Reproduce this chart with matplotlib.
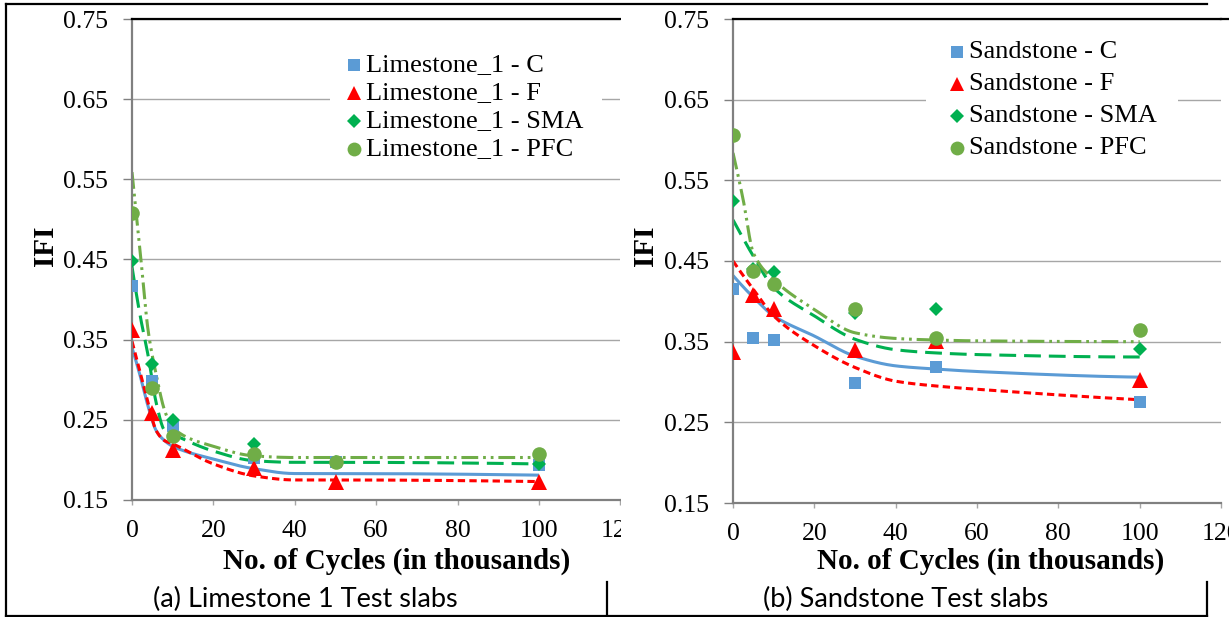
import numpy as np
import matplotlib
matplotlib.use("Agg")
import matplotlib.pyplot as plt
from matplotlib.lines import Line2D
from matplotlib.patches import Rectangle

# ---------------- data ----------------
cycles = [0, 5, 10, 30, 50, 100]

lime_C = [0.417, 0.299, 0.242, 0.203, 0.197, 0.194]
lime_F = [0.362, 0.258, 0.212, 0.190, 0.172, 0.172]
lime_SMA = [0.448, 0.320, 0.250, 0.220, 0.198, 0.195]
lime_PFC = [0.508, 0.290, 0.230, 0.208, 0.197, 0.208]

sand_C = [0.415, 0.354, 0.352, 0.299, 0.319, 0.275]
sand_F = [0.337, 0.408, 0.390, 0.340, 0.351, 0.302]
sand_SMA = [0.524, 0.440, 0.436, 0.386, 0.391, 0.341]
sand_PFC = [0.606, 0.437, 0.422, 0.390, 0.355, 0.364]

# trend lines
lime_trend_x = [0, 2, 4, 6, 8, 10, 20, 30, 40, 50, 100]
lime_trend_C = [0.340, 0.305, 0.266, 0.236, 0.224, 0.217, 0.201, 0.189, 0.183, 0.183, 0.181]
lime_trend_F = [0.348, 0.309, 0.270, 0.236, 0.224, 0.220, 0.195, 0.180, 0.175, 0.175, 0.173]
lime_trend_SMA = [0.441, 0.380, 0.329, 0.270, 0.237, 0.232, 0.211, 0.199, 0.197, 0.197, 0.195]
lime_trend_PFC = [0.559, 0.460, 0.360, 0.305, 0.262, 0.240, 0.217, 0.205, 0.203, 0.203, 0.203]

sand_trend_x = [0, 2.5, 5, 10, 20, 30, 40, 50, 60, 100]
sand_trend_C = [0.432, 0.418, 0.405, 0.382, 0.357, 0.332, 0.320, 0.316, 0.313, 0.306]
sand_trend_F = [0.450, 0.432, 0.415, 0.382, 0.345, 0.318, 0.301, 0.295, 0.291, 0.278]
sand_trend_SMA = [0.501, 0.478, 0.456, 0.417, 0.382, 0.353, 0.340, 0.336, 0.334, 0.331]
sand_trend_PFC = [0.584, 0.526, 0.460, 0.427, 0.390, 0.361, 0.354, 0.352, 0.351, 0.350]

lime_labels = ["Limestone_1 - C", "Limestone_1 - F", "Limestone_1 - SMA", "Limestone_1 - PFC"]
sand_labels = ["Sandstone - C", "Sandstone - F", "Sandstone - SMA", "Sandstone - PFC"]
captions = ["(a) Limestone 1 Test slabs", "(b) Sandstone Test slabs"]
xlabel = "No. of Cycles (in thousands)"
ylabel = "IFI"
yticks = [0.15, 0.25, 0.35, 0.45, 0.55, 0.65, 0.75]
xticks = [0, 20, 40, 60, 80, 100, 120]

# ---------------- style ----------------
W, H = 1229, 617
fig = plt.figure(figsize=(W / 100, H / 100), dpi=100)
SERIF = ["Liberation Serif", "DejaVu Serif"]
plt.rcParams["font.family"] = SERIF

colors = ["#5B9BD5", "#FF0000", "#00B050", "#70AD47"]
markers = ["s", "^", "D", "o"]
msizes = [8.5, 11, 7.2, 10.5]
lw = 2.2
styles = [dict(linestyle="-"),
          dict(dashes=(2.4, 1.4)),
          dict(dashes=(5.5, 2.6)),
          dict(dashes=(5.5, 1.6, 0.9, 1.6, 0.9, 1.6))]


def fx(px):
    return px / W


def fy(py):
    return 1 - py / H


def pchip(x, y, xn):
    x = np.asarray(x, float)
    y = np.asarray(y, float)
    h = np.diff(x)
    d = np.diff(y) / h
    n = len(x)
    m = np.zeros(n)
    for k in range(1, n - 1):
        if d[k - 1] * d[k] > 0:
            w1 = 2 * h[k] + h[k - 1]
            w2 = h[k] + 2 * h[k - 1]
            m[k] = (w1 + w2) / (w1 / d[k - 1] + w2 / d[k])
    def endslope(h0, h1, d0, d1):
        s = ((2 * h0 + h1) * d0 - h0 * d1) / (h0 + h1)
        if np.sign(s) != np.sign(d0):
            s = 0.0
        elif np.sign(d0) != np.sign(d1) and abs(s) > abs(3 * d0):
            s = 3 * d0
        return s
    m[0] = endslope(h[0], h[1], d[0], d[1])
    m[-1] = endslope(h[-1], h[-2], d[-1], d[-2])
    idx = np.clip(np.searchsorted(x, xn) - 1, 0, n - 2)
    t = (xn - x[idx]) / h[idx]
    h00 = 2 * t**3 - 3 * t**2 + 1
    h10 = t**3 - 2 * t**2 + t
    h01 = -2 * t**3 + 3 * t**2
    h11 = t**3 - t**2
    return h00 * y[idx] + h10 * h[idx] * m[idx] + h01 * y[idx + 1] + h11 * h[idx] * m[idx + 1]


def make_axes(left_px, right_px, top_px, bottom_px, z):
    ax = fig.add_axes([fx(left_px), fy(bottom_px), (right_px - left_px) / W,
                       (bottom_px - top_px) / H])
    ax.set_zorder(z)
    ax.patch.set_alpha(0)
    ax.set_xlim(0, 120)
    ax.set_ylim(0.15, 0.75)
    ax.set_xticks(xticks)
    ax.set_yticks(yticks)
    ax.set_yticklabels([f"{v:.2f}" for v in yticks])
    ax.grid(axis="y", color="#A6A6A6", linewidth=1.0)
    ax.set_axisbelow(True)
    for s in ["left", "bottom"]:
        ax.spines[s].set_color("#808080")
        ax.spines[s].set_linewidth(1.6)
    ax.spines["right"].set_visible(False)
    ax.spines["top"].set_color("black")
    ax.spines["top"].set_linewidth(1.6)
    ax.tick_params(axis="y", direction="out", length=6.5, width=1.0, color="#808080",
                   pad=11, labelsize=18.5)
    ax.tick_params(axis="x", direction="out", length=3.6, width=1.0, color="#A6A6A6",
                   pad=11, labelsize=18.5)
    return ax


def draw_panel(ax, series, trend_x, trends):
    xs = np.linspace(0, 100, 600)
    for i in range(4):
        ax.plot(xs, pchip(trend_x, trends[i], xs), color=colors[i], lw=lw,
                solid_capstyle="butt", dash_capstyle="butt", zorder=2, **styles[i])
    for i in range(4):
        ax.plot(cycles, series[i], linestyle="none", marker=markers[i],
                markersize=msizes[i], color=colors[i], markeredgewidth=0, zorder=3)


axL = make_axes(132, 620.4, 19, 500, 0)
axR = make_axes(733, 1221, 19, 503, 1)

draw_panel(axL, [lime_C, lime_F, lime_SMA, lime_PFC], lime_trend_x,
           [lime_trend_C, lime_trend_F, lime_trend_SMA, lime_trend_PFC])
draw_panel(axR, [sand_C, sand_F, sand_SMA, sand_PFC], sand_trend_x,
           [sand_trend_C, sand_trend_F, sand_trend_SMA, sand_trend_PFC])

# white strip hiding the clipped part of the left panel
fig.add_artist(Rectangle((fx(621), fy(560)), (733 - 621) / W, (560 - 10) / H,
                         transform=fig.transFigure, facecolor="white",
                         edgecolor="none", zorder=0.5))
# top line continuation for right panel
fig.add_artist(Line2D([fx(1221), fx(1229)], [fy(19), fy(19)], color="black",
                      lw=1.6, zorder=2))


def legend(labels, box, mx, tx, ys):
    x0, y0, x1, y1 = box
    fig.add_artist(Rectangle((fx(x0), fy(y1)), (x1 - x0) / W, (y1 - y0) / H,
                             transform=fig.transFigure, facecolor="white",
                             edgecolor="none", zorder=5))
    for i, lab in enumerate(labels):
        fig.add_artist(Line2D([fx(mx)], [fy(ys[i])], marker=markers[i],
                              markersize=msizes[i] * 0.95, color=colors[i],
                              markeredgewidth=0, linestyle="none", zorder=6))
        fig.text(fx(tx), fy(ys[i]), lab, ha="left", va="center", fontsize=19,
                 zorder=6)


legend(lime_labels, (330, 40, 602, 165), 354, 366, [65, 93, 121, 149])
legend(sand_labels, (926, 30, 1178, 165), 957, 969, [52, 84, 116, 148])

# axis labels
for cx in [397, 991]:
    fig.text(fx(cx), fy(569), xlabel, ha="center", va="baseline", fontsize=21,
             fontweight="bold")
for cx in [46, 645]:
    fig.text(fx(cx), fy(246), ylabel, ha="center", va="center", fontsize=21,
             fontweight="bold", rotation=90)

# captions, sized to the reference width
renderer = fig.canvas.get_renderer()
cap_specs = [(305.5, 305), (906, 286)]
for (cx, target_w), txt in zip(cap_specs, captions):
    t = fig.text(fx(cx), fy(607), txt, ha="center", va="baseline", fontsize=20,
                 family=["Lato", "DejaVu Sans"])
    w = t.get_window_extent(renderer).width
    t.set_fontsize(20 * target_w / w)

# table frame
frame_kw = dict(color="black", lw=1.6, zorder=10, solid_capstyle="projecting")
fig.add_artist(Line2D([fx(6.5), fx(1207)], [fy(3.5), fy(3.5)], **frame_kw))
fig.add_artist(Line2D([fx(6.5), fx(1207)], [fy(616), fy(616)], **frame_kw))
fig.add_artist(Line2D([fx(6.5), fx(6.5)], [fy(3.5), fy(616)], **frame_kw))
fig.add_artist(Line2D([fx(606.5), fx(606.5)], [fy(582), fy(616)], **frame_kw))
fig.add_artist(Line2D([fx(1207), fx(1207)], [fy(582), fy(616)], **frame_kw))

fig.savefig("out.png", dpi=100, facecolor="white")
